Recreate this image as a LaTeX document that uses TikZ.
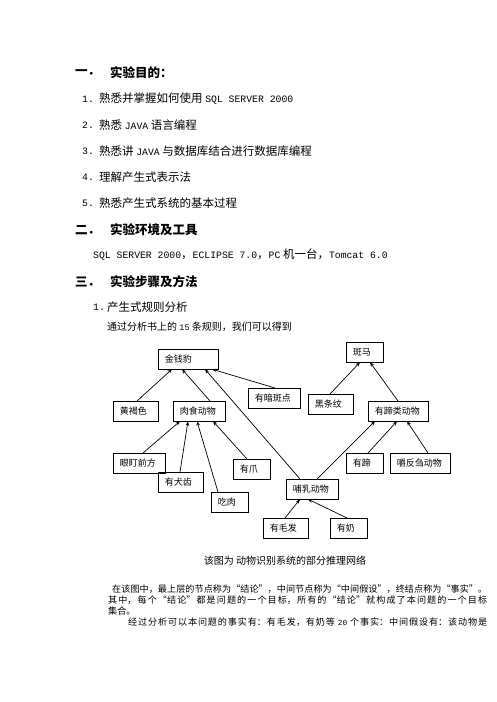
\documentclass[tikz,border=0pt]{standalone}
\usepackage{fontspec}
\setmainfont{Noto Sans CJK SC}
\newfontfamily\latin{Liberation Mono}[Scale=0.85]
\usetikzlibrary{arrows.meta}
\XeTeXlinebreaklocale "zh"
\XeTeXlinebreakskip=0pt plus 1pt

\begin{document}
\begin{tikzpicture}[x=1pt,y=-1pt,
  box/.style={draw,line width=0.7pt,anchor=north west,inner xsep=6.5pt,inner ysep=0pt,minimum height=19.5pt,align=left,font=\fontsize{9}{9}\selectfont},
  arr/.style={line width=0.7pt,-{Stealth[length=4.5pt,width=3.5pt]}},
  txt/.style={anchor=west,inner sep=0pt},
  head/.style={txt,font=\fontsize{12.5}{13}\selectfont\bfseries},
  item/.style={txt,font=\fontsize{11.5}{12}\selectfont}]
\useasboundingbox (0,0) rectangle (496,702);

% headings and list
\node[head] (h1n) at (75,73) {一．};
\node[head] (h1) at (110,73) {实验目的：};
\node[item] (n1) at (82,99) {\latin 1.};
\node[item] (i1) at (99,99) {熟悉并掌握如何使用 {\latin SQL SERVER 2000}};
\node[item] (n2) at (82,125) {\latin 2.};
\node[item] (i2) at (99,125) {熟悉 {\latin JAVA} 语言编程};
\node[item] (n3) at (82,151) {\latin 3.};
\node[item] (i3) at (99,151) {熟悉讲 {\latin JAVA} 与数据库结合进行数据库编程};
\node[item] (n4) at (82,177) {\latin 4.};
\node[item] (i4) at (99,177) {理解产生式表示法};
\node[item] (n5) at (82,203) {\latin 5.};
\node[item] (i5) at (99,203) {熟悉产生式系统的基本过程};
\node[head] (h2n) at (75,230) {二．};
\node[head] (h2) at (110,230) {实验环境及工具};
\node[item] (env) at (93,255) {{\latin SQL SERVER 2000}，{\latin ECLIPSE 7.0}，{\latin PC} 机一台，{\latin Tomcat 6.0}};
\node[head] (h3n) at (75,282) {三．};
\node[head] (h3) at (110,282) {实验步骤及方法};
\node[item] (s1n) at (93,307) {\latin 1.};
\node[item] (s1) at (107,307) {产生式规则分析};
\node[txt,font=\fontsize{10}{10}\selectfont] (s1t) at (107,327) {通过分析书上的 {\latin 15} 条规则，我们可以得到};

% inference network
\node[box,text width=47pt] (jqb) at (158,349) {金钱豹};
\node[box,text width=24pt] (bm) at (346,342) {斑马};
\node[box,text width=39pt] (yab) at (248,388) {有暗斑点};
\node[box,text width=32pt] (hhs) at (113,401) {黄褐色};
\node[box,text width=39pt] (rsdw) at (173,401) {肉食动物};
\node[box,text width=32pt] (htw) at (308,394) {黑条纹};
\node[box,text width=47pt] (ytldw) at (368,401) {有蹄类动物};
\node[box,text width=39pt] (ydqf) at (113,453) {眼盯前方};
\node[box,text width=32pt] (yqc) at (158,472) {有犬齿};
\node[box,text width=24pt] (cr) at (211,492) {吃肉};
\node[box,text width=24pt] (yz) at (233,459) {有爪};
\node[box,text width=39pt] (brdw) at (286,479) {哺乳动物};
\node[box,text width=24pt] (yt) at (346,453) {有蹄};
\node[box,text width=47pt] (jfc) at (390,453) {嚼反刍动物};
\node[box,text width=32pt] (ymf) at (263,518) {有毛发};
\node[box,text width=24pt] (yn) at (330,518) {有奶};

\draw[arr] ([xshift=24pt]hhs.north west) -- ([xshift=14pt]jqb.south west);
\draw[arr] ([xshift=37pt]rsdw.north west) -- ([xshift=24pt]jqb.south west);
\draw[arr] ([xshift=14pt]brdw.north west) -- ([xshift=47pt]jqb.south west);
\draw[arr] ([xshift=27pt]yab.north west) -- ([xshift=54pt]jqb.south west);
\draw[arr] ([xshift=22pt]htw.north west) -- ([xshift=14pt]bm.south west);
\draw[arr] ([xshift=30pt]ytldw.north west) -- ([xshift=24pt]bm.south west);
\draw[arr] ([xshift=30pt]ydqf.north west) -- ([xshift=7pt]rsdw.south west);
\draw[arr] ([xshift=22pt]yqc.north west) -- ([xshift=15pt]rsdw.south west);
\draw[arr] ([xshift=7pt]cr.north west) -- ([xshift=24pt]rsdw.south west);
\draw[arr] ([xshift=14pt]yz.north west) -- ([xshift=40pt]rsdw.south west);
\draw[arr] ([xshift=31pt]brdw.north west) -- ([xshift=7pt]ytldw.south west);
\draw[arr] ([xshift=22pt]yt.north west) -- ([xshift=29pt]ytldw.south west);
\draw[arr] ([xshift=38pt]jfc.north west) -- ([xshift=39pt]ytldw.south west);
\draw[arr] ([xshift=22pt]ymf.north west) -- ([xshift=14pt]brdw.south west);
\draw[arr] ([xshift=17pt]yn.north west) -- ([xshift=22pt]brdw.south west);

% caption and text below
\node[font=\fontsize{10}{10}\selectfont,inner sep=0pt] (cap) at (285,561) {该图为 动物识别系统的部分推理网络};
\node[anchor=north west,inner sep=0pt,text width=379pt,align=justify,font=\fontsize{9.1}{11}\selectfont] (para) at (108,584.5)
  {\hspace*{4pt}在该图中，最上层的节点称为“结论”，中间节点称为“中间假设”，终结点称为“事实”。\linebreak
   其中，每个“结论”都是问题的一个目标，所有的“结论”就构成了本问题的一个目标\linebreak
   集合。\par
   \parfillskip=0pt\hspace*{20pt}经过分析可以本问题的事实有：有毛发，有奶等 {\latin 20} 个事实：中间假设有：该动物是\par};
\end{tikzpicture}
\end{document}
